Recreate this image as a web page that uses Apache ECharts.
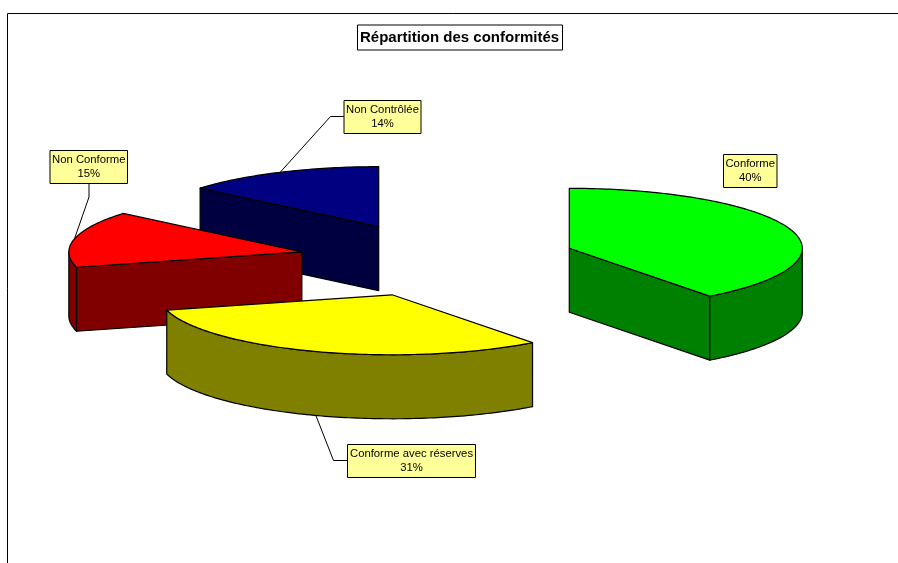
<!DOCTYPE html>
<html>
<head>
    <meta charset="utf-8">
    <script src="https://cdn.jsdelivr.net/npm/echarts@6/dist/echarts.min.js"></script>
    <style>
        html, body { margin: 0; padding: 0; background: #fff; }
        #main { width: 898px; height: 563px; }
    </style>
</head>
<body>
    <div id="main"></div>
    <script>
        var titleText = 'Répartition des conformités';
        var categories = ['Conforme', 'Conforme avec réserves', 'Non Conforme', 'Non Contrôlée'];
        // the labels show them rounded
        var values = [39.7, 31.2, 15.2, 13.9];
        var topColors = ['#00ff00', '#ffff00', '#ff0000', '#000080'];
        var sideColors = ['#008000', '#808000', '#800000', '#000040'];

        // label boxes and leader elbows, in pixels
        var labelBoxes = [
            { x: 723.5, y: 154.5, w: 53.5, h: 33, elbow: null },
            { x: 347.5, y: 444.5, w: 128, h: 33, elbow: [333.5, 460.5], from: [347.5, 460.5] },
            { x: 50, y: 150.5, w: 77.5, h: 33, elbow: [89, 197], from: [89, 183.5] },
            { x: 344, y: 100.5, w: 77, h: 33, elbow: [330.5, 116.5], from: [344, 116.5] }
        ];

        // projected pie
        var pie = { cx: 437.5, cy: 260, rx: 233, ry: 60, depth: 64, explodeX: 139, explodeY: 36.8 };

        var total = values.reduce(function (a, b) { return a + b; }, 0);
        var slices = [];
        var acc = 0;
        values.forEach(function (v) {
            var a0 = acc / total * 360;
            acc += v;
            slices.push({ a0: a0, a1: acc / total * 360 });
        });

        function rad(d) { return d * Math.PI / 180; }

        // apex of an exploded slice
        function apex(i) {
            var mid = rad((slices[i].a0 + slices[i].a1) / 2);
            return [pie.cx + pie.explodeX * Math.sin(mid), pie.cy - pie.explodeY * Math.cos(mid)];
        }

        function rim(c, deg, drop) {
            return [c[0] + pie.rx * Math.sin(rad(deg)), c[1] - pie.ry * Math.cos(rad(deg)) + (drop || 0)];
        }

        function arc(c, from, to, drop) {
            var pts = [];
            var n = Math.max(2, Math.ceil(Math.abs(to - from)));
            for (var k = 0; k <= n; k++) {
                pts.push(rim(c, from + (to - from) * k / n, drop));
            }
            return pts;
        }

        function face(points, fill) {
            return {
                type: 'polygon',
                shape: { points: points },
                style: { fill: fill, stroke: '#000', lineWidth: 1.2, lineJoin: 'round' }
            };
        }

        function wallFace(c, deg, fill) {
            var e = rim(c, deg);
            return face([c, e, [e[0], e[1] + pie.depth], [c[0], c[1] + pie.depth]], fill);
        }

        function renderSlice(params, api) {
            var i = api.value(0);
            var s = slices[i];
            var c = apex(i);
            var children = [];

            // flat cut faces that look towards the viewer
            if (Math.cos(rad(s.a0 - 90)) < -1e-6) children.push(wallFace(c, s.a0, sideColors[i]));
            if (Math.cos(rad(s.a1 + 90)) < -1e-6) children.push(wallFace(c, s.a1, sideColors[i]));

            // curved outer wall, front half only
            var from = Math.max(s.a0, 90);
            var to = Math.min(s.a1, 270);
            if (to > from) {
                children.push(face(arc(c, from, to, 0).concat(arc(c, to, from, pie.depth)), sideColors[i]));
            }

            // top
            children.push(face([c].concat(arc(c, s.a0, s.a1, 0)), topColors[i]));
            return { type: 'group', children: children };
        }

        function renderLabel(params, api) {
            var i = api.value(0);
            var b = labelBoxes[i];
            var children = [];
            if (b.elbow) {
                var mid = (slices[i].a0 + slices[i].a1) / 2;
                var front = mid > 90 && mid < 270;
                var end = rim(apex(i), mid, front ? pie.depth : 0);
                children.push({
                    type: 'polyline',
                    shape: { points: [b.from, b.elbow, end] },
                    style: { fill: null, stroke: '#000', lineWidth: 1 }
                });
            }
            children.push({
                type: 'rect',
                shape: { x: b.x, y: b.y, width: b.w, height: b.h },
                style: { fill: '#ffff99', stroke: '#000', lineWidth: 1 }
            });
            children.push({
                type: 'text',
                style: {
                    x: b.x + b.w / 2,
                    y: b.y + b.h / 2,
                    text: categories[i] + '\n' + Math.round(values[i]) + '%',
                    align: 'center',
                    verticalAlign: 'middle',
                    font: '11.3px "Liberation Sans", Arial, sans-serif',
                    lineHeight: 14,
                    fill: '#000'
                }
            });
            return { type: 'group', children: children };
        }

        var myChart = echarts.init(document.getElementById('main'), null, { renderer: 'canvas' });

        var option = {
            animation: false,
            backgroundColor: '#fff',
            title: {
                text: titleText,
                left: 357,
                top: 24.5,
                padding: [6, 4, 5, 3],
                borderColor: '#000',
                borderWidth: 1,
                backgroundColor: '#fff',
                textStyle: { fontFamily: '"Liberation Sans", Arial, sans-serif', fontSize: 15, fontWeight: 'bold', color: '#000', lineHeight: 15 }
            },
            graphic: [
                {
                    type: 'polyline',
                    shape: { points: [[7.5, 563], [7.5, 13.5], [898, 13.5]] },
                    style: { fill: null, stroke: '#000', lineWidth: 1 }
                }
            ],
            series: [
                {
                    type: 'custom',
                    coordinateSystem: 'none',
                    renderItem: renderSlice,
                    // painted back to front
                    data: [[3], [2], [1], [0]],
                    silent: true
                },
                {
                    type: 'custom',
                    coordinateSystem: 'none',
                    renderItem: renderLabel,
                    data: values.map(function (v, i) { return [i]; }),
                    silent: true,
                    z: 3
                }
            ]
        };
        myChart.setOption(option);
    </script>
</body>
</html>
